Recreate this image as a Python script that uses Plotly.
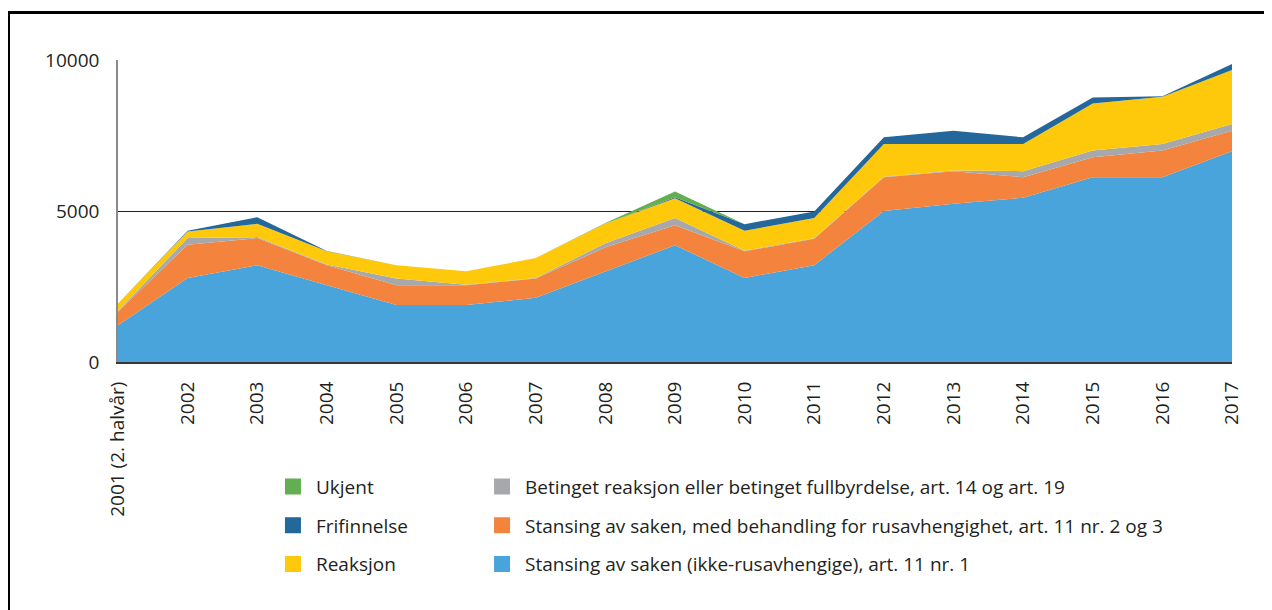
import plotly.graph_objects as go

years = ["2001 (2. halvår)", "2002", "2003", "2004", "2005", "2006", "2007", "2008", "2009",
         "2010", "2011", "2012", "2013", "2014", "2015", "2016", "2017"]

stansing_ikke = [1220, 2785, 3205, 2545, 1885, 1885, 2125, 3000, 3865, 2785, 3205, 5000, 5240, 5440, 6120, 6120, 6980]
stansing_med = [440, 1100, 900, 660, 660, 660, 640, 800, 660, 880, 880, 1120, 1080, 680, 660, 880, 680]
betinget = [30, 220, 30, 20, 220, 10, 20, 130, 240, 20, 10, 10, 20, 200, 220, 220, 220]
reaksjon = [250, 220, 440, 440, 440, 450, 660, 660, 660, 660, 670, 1090, 880, 900, 1560, 1560, 1790]
frifinnelse = [0, 20, 220, 10, 0, 0, 0, 0, 30, 220, 220, 220, 440, 220, 200, 20, 200]
ukjent = [0, 0, 0, 0, 0, 0, 0, 15, 190, 0, 0, 0, 0, 0, 0, 0, 0]

y_ticks = [0, 5000, 10000]

series = [
    ("Stansing av saken (ikke-rusavhengige), art. 11 nr. 1", stansing_ikke, "#48A4DA"),
    ("Stansing av saken, med behandling for rusavhengighet, art. 11 nr. 2 og 3", stansing_med, "#F3833D"),
    ("Betinget reaksjon eller betinget fullbyrdelse, art. 14 og art. 19", betinget, "#A7A8AB"),
    ("Reaksjon", reaksjon, "#FFC90B"),
    ("Frifinnelse", frifinnelse, "#23679B"),
    ("Ukjent", ukjent, "#62AE50"),
]
colors = {name: c for name, _, c in series}

fig = go.Figure()
for name, vals, col in series:
    fig.add_trace(go.Scatter(
        x=years, y=vals, name=name, stackgroup="one", mode="none",
        fillcolor=col, showlegend=False, hoverinfo="x+y+name"))

legend1 = ["Ukjent", "Frifinnelse", "Reaksjon"]
legend2 = ["Betinget reaksjon eller betinget fullbyrdelse, art. 14 og art. 19",
           "Stansing av saken, med behandling for rusavhengighet, art. 11 nr. 2 og 3",
           "Stansing av saken (ikke-rusavhengige), art. 11 nr. 1"]
for i, name in enumerate(legend1):
    fig.add_trace(go.Scatter(x=[None], y=[None], mode="markers", name=name,
                             marker=dict(symbol="square", size=16, color=colors[name]),
                             legend="legend", legendgroup="a%d" % i, showlegend=True))
for i, name in enumerate(legend2):
    fig.add_trace(go.Scatter(x=[None], y=[None], mode="markers", name=name,
                             marker=dict(symbol="square", size=16, color=colors[name]),
                             legend="legend2", legendgroup="b%d" % i, showlegend=True))

font = dict(family="Open Sans", size=19, color="#231F20")
legend_common = dict(font=font, tracegroupgap=11, bgcolor="rgba(0,0,0,0)",
                     yanchor="top", xanchor="left", traceorder="grouped", itemclick=False,
                     itemwidth=36)

L, T, W, H = 110, 52, 1114, 302
fig.update_layout(
    width=1272, height=610,
    margin=dict(l=L, r=1272 - L - W, t=T, b=610 - T - H),
    paper_bgcolor="white", plot_bgcolor="white",
    font=font,
    showlegend=True,
    legend=dict(x=0.1364, y=-0.35, **legend_common),
    legend2=dict(x=0.3241, y=-0.35, **legend_common),
    xaxis=dict(type="category", range=[0, 16], tickangle=-90, showgrid=False,
               showline=True, linecolor="#3A3633", linewidth=2, ticks="",
               ticklabelstandoff=10, tickfont=font, zeroline=False),
    yaxis=dict(range=[0, 10000], tickvals=y_ticks, ticktext=[str(v) for v in y_ticks],
               showgrid=True, gridcolor="#231F20", gridwidth=1.2,
               showline=True, linecolor="#8A8A8A", linewidth=1.5, ticks="",
               ticklabelstandoff=13, tickfont=font, zeroline=False),
    shapes=[dict(type="rect", xref="paper", yref="paper",
                 x0=(0.5 - L) / W, x1=(1300 - L) / W,
                 y0=(T + H - 700) / H, y1=(T + H - 4.5) / H,
                 line=dict(color="black", width=3), fillcolor="rgba(0,0,0,0)", layer="above")],
)

fig.write_html("out.html")
